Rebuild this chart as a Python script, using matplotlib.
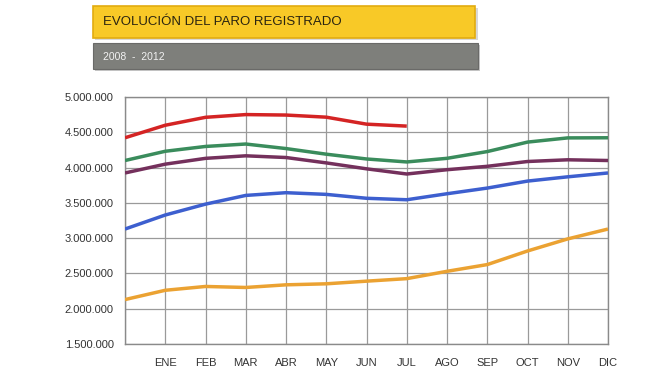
import numpy as np
import matplotlib
matplotlib.use("Agg")
import matplotlib.pyplot as plt
from matplotlib.patches import Rectangle
from matplotlib.ticker import FuncFormatter

# Paro registrado, dic. del año anterior + ene..dic
meses = ["", "ENE", "FEB", "MAR", "ABR", "MAY", "JUN", "JUL", "AGO", "SEP", "OCT", "NOV", "DIC"]

paro_2008 = [2129547, 2261136, 2315331, 2300975, 2338517, 2352940, 2390403,
             2426105, 2530001, 2625368, 2818026, 2989269, 3128963]
paro_2009 = [3128963, 3327801, 3481859, 3605402, 3644041, 3620139, 3564889,
             3544105, 3629080, 3709447, 3808353, 3868946, 3923603]
paro_2010 = [3923603, 4048493, 4130625, 4166613, 4142425, 4066202, 3982368,
             3908912, 3969661, 4017763, 4085976, 4110294, 4100073]
paro_2011 = [4100073, 4231003, 4299263, 4333669, 4269360, 4189659, 4121801,
             4079742, 4130994, 4226744, 4360926, 4420462, 4422359]
paro_2012 = [4422359, 4599829, 4712098, 4750867, 4744235, 4714122, 4615269,
             4587455]

series = [(paro_2008, "#eba232"), (paro_2009, "#3d5fcf"), (paro_2010, "#74305c"),
          (paro_2011, "#3a8c5c"), (paro_2012, "#d42424")]

W, H = 670, 374
fig = plt.figure(figsize=(W / 100, H / 100), dpi=100)
fig.patch.set_facecolor("white")

def fbox(x0, y0, x1, y1, **kw):
    """Rectangle in pixel coords (origin top-left)."""
    fig.patches.append(Rectangle((x0 / W, 1 - y1 / H), (x1 - x0) / W, (y1 - y0) / H,
                                 transform=fig.transFigure, figure=fig, **kw))

# banners
fbox(95, 8, 478, 40, facecolor="#d8d8d8", edgecolor="none")
fbox(93, 6, 475, 38, facecolor="#f8c927", edgecolor="#e2ac10", linewidth=1.2)
fbox(95, 45, 480, 71, facecolor="#c8c8c8", edgecolor="none")
fbox(93, 43, 478, 69, facecolor="#7e7f7b", edgecolor="#6a6a68", linewidth=0.8)

fig.text(103 / W, 1 - 22 / H, "EVOLUCIÓN DEL PARO REGISTRADO",
         family=["Liberation Sans Narrow", "Liberation Sans", "DejaVu Sans"],
         fontsize=9.5, color="#2a2410", va="center", ha="left")
fig.text(103 / W, 1 - 56.5 / H, "2008  -  2012", family=["Liberation Sans", "DejaVu Sans"],
         fontsize=7.5, color="#f2f2f2", va="center", ha="left")

ax = fig.add_axes([125 / W, 1 - 344 / H, (608 - 125) / W, (344 - 97) / H])
for vals, col in series:
    ax.plot(range(len(vals)), vals, color=col, lw=2.5, solid_capstyle="butt", zorder=3)

ax.set_xlim(0, 12)
ax.set_ylim(1500000, 5000000)
ax.set_xticks(range(13))
ax.set_xticklabels(meses)
ax.set_yticks(np.arange(1500000, 5000001, 500000))
ax.yaxis.set_major_formatter(FuncFormatter(lambda v, p: f"{int(v):,}".replace(",", ".")))
ax.grid(True, color="#9a9a9a", lw=0.9)
ax.set_axisbelow(True)
ax.tick_params(length=0, labelsize=8, colors="#333333")
ax.tick_params(axis="y", pad=8)
ax.tick_params(axis="x", pad=10)
for lab in ax.get_xticklabels() + ax.get_yticklabels():
    lab.set_family(["Liberation Sans", "DejaVu Sans"])
for s in ax.spines.values():
    s.set_color("#8a8a8a")
    s.set_linewidth(1)

fig.savefig("out.png", dpi=100)
